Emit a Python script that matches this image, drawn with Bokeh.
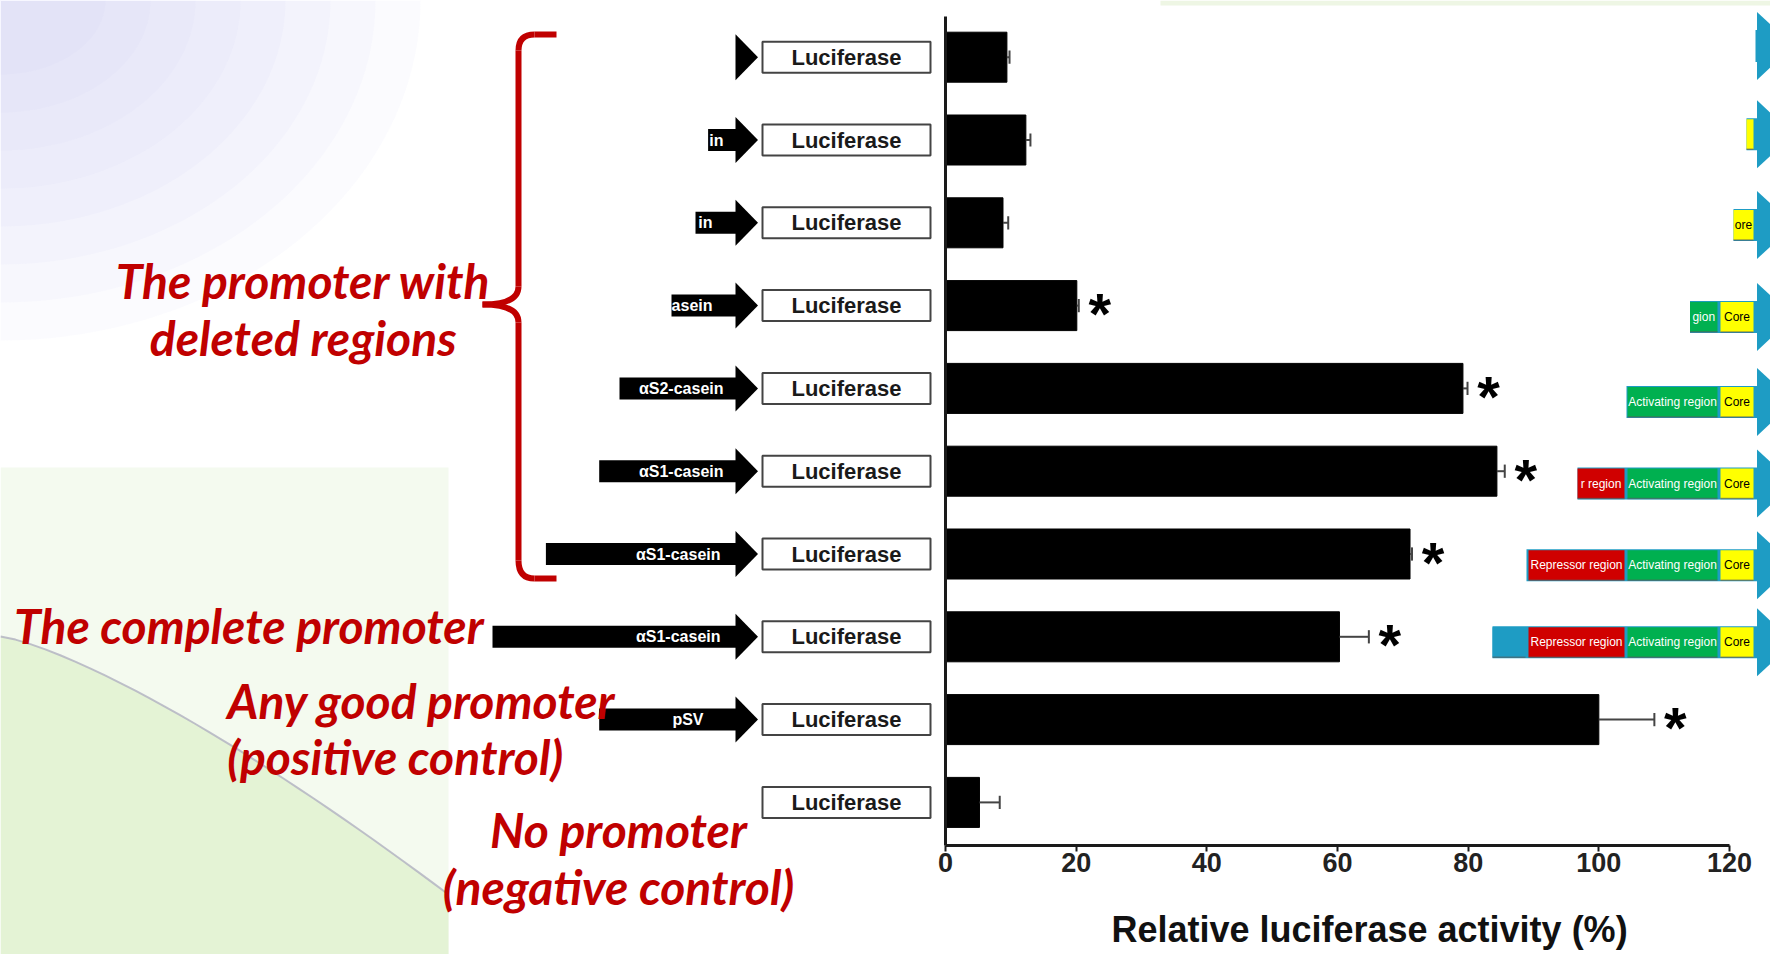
from bokeh.plotting import figure
from bokeh.models import Range1d, LinearAxis, FixedTicker
from bokeh.core.properties import value
from bokeh.embed import file_html
from bokeh.resources import INLINE
import math

# ---------------- data ----------------
reporter = ["Luciferase"] * 10
activity = [9.4, 12.3, 8.8, 20.1, 79.2, 84.4, 71.1, 60.3, 100.0, 5.2]
error = [0.4, 0.7, 0.8, 0.3, 0.7, 1.2, 0.3, 4.5, 8.5, 3.1]
significant = [False, False, False, True, True, True, True, True, True, False]
promoter_labels = ["", "in", "in", "asein", "αS2-casein", "αS1-casein",
                   "αS1-casein", "αS1-casein", "pSV", ""]
x_ticks = [0, 20, 40, 60, 80, 100, 120]
x_title = "Relative luciferase activity (%)"
diagram_text = [
    ["", "", "", ""],
    ["", "", "", ""],
    ["", "", "", "ore"],
    ["", "", "gion", "Core"],
    ["", "", "Activating region", "Core"],
    ["", "r region", "Activating region", "Core"],
    ["", "Repressor region", "Activating region", "Core"],
    ["", "Repressor region", "Activating region", "Core"],
]
notes = ["The promoter with", "deleted regions", "The complete promoter",
         "Any good promoter", "(positive control)", "No promoter", "(negative control)"]

# ---------------- layout geometry (image pixels -> data) ----------------
PX0, PXS = 945.0, (1729.0 - 945.0) / 120.0
PY0, PYS = 56.7, 82.8


def dx(fx):
    return (fx - PX0) / PXS


def dy(fy):
    return (fy - PY0) / PYS


W, H = 1770, 954
p = figure(width=W, height=H, x_range=Range1d(dx(0), dx(W)),
           y_range=Range1d(dy(H), dy(0)), x_axis_type=None, y_axis_type=None,
           toolbar_location=None, output_backend="svg", min_border=0,
           outline_line_color=None, background_fill_color="white",
           border_fill_color="white")

RED = "#C00000"

# ---------------- background decoration ----------------
for k in range(8):
    rx, ry = 420 - k * 45, 340 - k * 38
    pts = [(rx * math.cos(t / 40 * math.pi / 2), ry * math.sin(t / 40 * math.pi / 2)) for t in range(41)]
    xs = [dx(0)] + [dx(u) for u, v in pts]
    ys = [dy(0)] + [dy(v) for u, v in pts]
    p.patch(xs, ys, fill_color="#C8C8F2", fill_alpha=0.07, line_color=None)
p.quad(left=dx(1160), right=dx(W), top=dy(0), bottom=dy(5),
       fill_color="#EEF6E4", line_color=None)
p.quad(left=dx(0), right=dx(448), top=dy(467), bottom=dy(970),
       fill_color="#F4FAEF", line_color=None)
cx = [dx(t * 448 / 30) for t in range(31)]
cy = [dy(636 + 258 * (t / 30) ** 1.3) for t in range(31)]
p.patch(cx + [dx(448), dx(0)], cy + [dy(970), dy(970)],
        fill_color="#DDEFCB", fill_alpha=0.7, line_color=None)
p.line(cx, cy, line_color="#B0B0C0", line_width=2, line_alpha=0.8)

rows = list(range(len(activity)))

# ---------------- bars ----------------
p.hbar(y=rows, left=0, right=activity, height=50 / PYS, fill_color="black", line_color="black")

err_end = [a + e for a, e in zip(activity, error)]
p.segment(x0=activity, y0=rows, x1=err_end, y1=rows, line_color="#444444", line_width=2)
p.segment(x0=err_end, y0=[r - 0.08 for r in rows], x1=err_end, y1=[r + 0.08 for r in rows],
          line_color="#444444", line_width=2)

sig_x = [x for x, s in zip(err_end, significant) if s]
sig_y = [r for r, s in zip(rows, significant) if s]
p.text(x=sig_x, y=sig_y, text=["*"] * len(sig_x), x_offset=21, y_offset=8,
       text_align="center", text_baseline="middle", text_font=value("Liberation Sans"),
       text_font_style="bold", text_font_size="58px", text_color="black")

# ---------------- luciferase boxes ----------------
p.rect(x=[dx(846)] * len(rows), y=rows, width=(930 - 762) / PXS, height=31 / PYS,
       fill_color="white", line_color="#444444", line_width=2)
p.text(x=[dx(846)] * len(rows), y=rows, text=reporter, text_align="center",
       text_baseline="middle", text_font=value("Liberation Sans"), text_font_style="bold",
       text_font_size="22px", text_color="#1a1a1a")

# ---------------- promoter arrows ----------------
shaft_left_px = [None, 707.6, 695, 671, 619, 598.7, 545.4, 492, 598.7, None]
label_right_px = [None, 723, 712, 712, 723, 723, 720, 720, 703, None]
head_base, head_tip = dx(735), dx(757.5)
hx, hy, ql, qr, qt, qb = [], [], [], [], [], []
lx, ly, lt = [], [], []
for i in rows:
    if i == 9:
        continue
    hx.append([head_base, head_tip, head_base])
    hy.append([i - 23 / PYS, i, i + 23 / PYS])
    if shaft_left_px[i] is not None:
        ql.append(dx(shaft_left_px[i])); qr.append(head_base + 0.3)
        qt.append(i - 11 / PYS); qb.append(i + 11 / PYS)
        lx.append(dx(label_right_px[i])); ly.append(i); lt.append(promoter_labels[i])
p.quad(left=ql, right=qr, top=qt, bottom=qb, fill_color="black", line_color=None)
p.patches(hx, hy, fill_color="black", line_color=None)
p.text(x=lx, y=ly, text=lt, text_align="right", text_baseline="middle",
       text_font=value("Liberation Sans"), text_font_style="bold",
       text_font_size="16px", text_color="white")

# ---------------- right-hand promoter diagrams ----------------
diag_y_px = [45.4, 133.8, 224.5, 316.4, 401.4, 483.0, 564.7, 641.8]
diag_start_px = [1755, 1746, 1733, 1689.5, 1626, 1577, 1526, 1492]
box_px = [(1492, 1525), (1528, 1624), (1627, 1717), (1720, 1753)]
box_col = ["#1E9CC4", "#D00000", "#00B050", "#FFFF00"]
box_txt_col = ["white", "white", "white", "black"]
BLUE = "#1E9CC4"
for j, yp in enumerate(diag_y_px):
    y = dy(yp)
    s = diag_start_px[j]
    p.quad(left=dx(s), right=dx(1758), top=y - 16 / PYS, bottom=y + 16 / PYS,
           fill_color=BLUE, line_color=None)
    for k, (a, b) in enumerate(box_px):
        if s >= b:
            continue
        a2 = max(a, s)
        p.quad(left=dx(a2), right=dx(b), top=y - 15 / PYS, bottom=y + 15 / PYS,
               fill_color=box_col[k], line_color=None)
        p.segment(x0=[dx(a2)], y0=[y + 15 / PYS], x1=[dx(b)], y1=[y + 15 / PYS],
                  line_color="#5a5a5a", line_width=1.5, line_alpha=0.6)
        if diagram_text[j][k]:
            p.text(x=[dx((a2 + b) / 2)], y=[y], text=[diagram_text[j][k]],
                   text_align="center", text_baseline="middle",
                   text_font=value("Liberation Sans"), text_font_size="12px",
                   text_color=box_txt_col[k])
    p.patch([dx(1756.5), dx(1793), dx(1756.5)], [y - 34 / PYS, y, y + 34 / PYS],
            fill_color=BLUE, line_color=None)

# ---------------- red brace ----------------
bw = 6
p.line([dx(556), dx(534)], [dy(34), dy(34)], line_color=RED, line_width=bw)
p.quadratic(x0=[dx(534), dx(518), dx(518), dx(518)], y0=[dy(34), dy(286), dy(322), dy(560)],
            x1=[dx(518), dx(482), dx(482), dx(534)], y1=[dy(50), dy(304), dy(304), dy(578)],
            cx=[dx(518), dx(518), dx(518), dx(518)], cy=[dy(34), dy(304), dy(304), dy(578)],
            line_color=RED, line_width=bw)
p.segment(x0=[dx(518), dx(518)], y0=[dy(50), dy(322)], x1=[dx(518), dx(518)],
          y1=[dy(286), dy(560)], line_color=RED, line_width=bw)
p.line([dx(534), dx(556)], [dy(578), dy(578)], line_color=RED, line_width=bw)

# ---------------- red annotations ----------------
note_x_px = [302.7, 302.7, 13.6, 226.8, 226.8, 618, 618]
note_y_px = [280, 337, 625, 700, 756, 829, 886]
note_align = ["center", "center", "left", "left", "left", "center", "center"]
for t, xp, yp, al in zip(notes, note_x_px, note_y_px, note_align):
    p.text(x=[dx(xp)], y=[dy(yp)], text=[t], text_align=al, text_baseline="middle",
           text_font=value("Lato"), text_font_style="bold italic", text_font_size="48px",
           text_color=RED)

# ---------------- axes ----------------
xaxis = LinearAxis(fixed_location=dy(845), bounds=(0, 120), ticker=FixedTicker(ticks=x_ticks))
xaxis.axis_line_width = 3
xaxis.axis_line_color = "#1a1a1a"
xaxis.major_tick_line_width = 2
xaxis.major_tick_line_color = "#1a1a1a"
xaxis.major_tick_out = 6
xaxis.major_tick_in = 0
xaxis.minor_tick_line_color = None
xaxis.major_label_standoff = 1
xaxis.major_label_text_font = "Liberation Sans"
xaxis.major_label_text_font_style = "bold"
xaxis.major_label_text_font_size = "27px"
xaxis.major_label_text_color = "#222222"
p.add_layout(xaxis, "below")

# axis title (offset to the right of the axis centre, as in the original figure)
p.text(x=[dx(1369)], y=[dy(929)], text=[x_title], text_align="center", text_baseline="middle",
       text_font=value("Liberation Sans"), text_font_style="bold", text_font_size="36px",
       text_color="#111111")

yaxis = LinearAxis(fixed_location=0, bounds=(dy(16), dy(845)), ticker=FixedTicker(ticks=[]))
yaxis.axis_line_width = 3
yaxis.axis_line_color = "#1a1a1a"
yaxis.major_tick_line_color = None
yaxis.minor_tick_line_color = None
yaxis.major_label_text_font_size = "0px"
p.add_layout(yaxis, "left")

open("out.html", "w").write(file_html(p, INLINE))
